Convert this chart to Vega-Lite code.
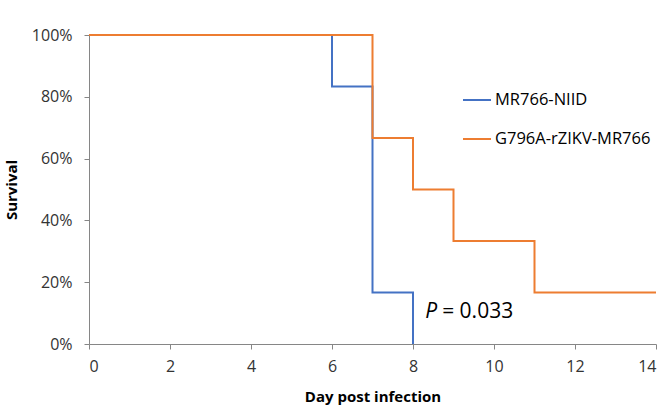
{
  "$schema": "https://vega.github.io/schema/vega-lite/v6.json",
  "width": 567,
  "height": 309,
  "autosize": {"type": "none"},
  "padding": {"left": 89, "top": 35, "right": 10, "bottom": 66},
  "background": "white",
  "config": {
    "view": {"stroke": null},
    "font": "Open Sans"
  },
  "datasets": {
    "surv": [
      {"group": "MR766-NIID", "day": 0, "survival": 1},
      {"group": "MR766-NIID", "day": 6, "survival": 0.8333},
      {"group": "MR766-NIID", "day": 7, "survival": 0.1667},
      {"group": "MR766-NIID", "day": 8, "survival": 0},
      {"group": "G796A-rZIKV-MR766", "day": 0, "survival": 1},
      {"group": "G796A-rZIKV-MR766", "day": 7, "survival": 0.6667},
      {"group": "G796A-rZIKV-MR766", "day": 8, "survival": 0.5},
      {"group": "G796A-rZIKV-MR766", "day": 9, "survival": 0.3333},
      {"group": "G796A-rZIKV-MR766", "day": 11, "survival": 0.1667},
      {"group": "G796A-rZIKV-MR766", "day": 14, "survival": 0.1667}
    ],
    "ann": [
      {"day": 8.3, "survival": 0.105, "p": "P", "rest": "= 0.033"}
    ]
  },
  "layer": [
    {
      "data": {"name": "surv"},
      "mark": {"type": "line", "interpolate": "step-after", "strokeWidth": 2},
      "encoding": {
        "x": {
          "field": "day", "type": "quantitative",
          "scale": {"domain": [0, 14], "nice": false, "zero": false},
          "axis": {
            "title": "Day post infection", "values": [0, 2, 4, 6, 8, 10, 12, 14],
            "grid": false, "domainColor": "#868686", "tickColor": "#868686", "tickSize": 5,
            "labelFontSize": 16, "labelColor": "#333333", "labelPadding": 9,
            "titleFontSize": 15, "titleFontWeight": "bold", "titleColor": "#000000", "titlePadding": 15
          }
        },
        "y": {
          "field": "survival", "type": "quantitative",
          "scale": {"domain": [0, 1], "nice": false},
          "axis": {
            "title": "Survival", "values": [0, 0.2, 0.4, 0.6, 0.8, 1], "format": ".0%",
            "grid": false, "domainColor": "#868686", "tickColor": "#868686", "tickSize": 5,
            "labelFontSize": 16, "labelColor": "#333333", "labelPadding": 12,
            "titleFontSize": 15, "titleFontWeight": "bold", "titleColor": "#000000", "titlePadding": 12
          }
        },
        "color": {
          "field": "group", "type": "nominal",
          "scale": {"domain": ["MR766-NIID", "G796A-rZIKV-MR766"], "range": ["#4472C4", "#ED7D31"]},
          "sort": ["MR766-NIID", "G796A-rZIKV-MR766"],
          "legend": {
            "title": null, "orient": "none", "legendX": 373, "legendY": 50,
            "symbolType": "stroke", "symbolSize": 784, "symbolStrokeWidth": 2,
            "labelFontSize": 16.5, "labelColor": "#000000", "rowPadding": 15, "labelOffset": 3
          }
        },
        "order": {"field": "day", "type": "quantitative"}
      }
    },
    {
      "data": {"name": "ann"},
      "mark": {"type": "text", "align": "left", "baseline": "middle", "fontSize": 21, "fontStyle": "italic", "color": "#000000"},
      "encoding": {
        "x": {"field": "day", "type": "quantitative"},
        "y": {"field": "survival", "type": "quantitative"},
        "text": {"field": "p"}
      }
    },
    {
      "data": {"name": "ann"},
      "mark": {"type": "text", "align": "left", "baseline": "middle", "fontSize": 21, "dx": 17, "color": "#000000"},
      "encoding": {
        "x": {"field": "day", "type": "quantitative"},
        "y": {"field": "survival", "type": "quantitative"},
        "text": {"field": "rest"}
      }
    }
  ]
}
